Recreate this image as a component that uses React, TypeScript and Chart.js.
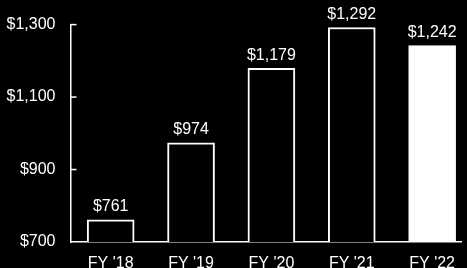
import React, { useEffect, useRef } from "react";
import { Chart, registerables } from "chart.js";

Chart.register(...registerables);

const categories = ["FY '18", "FY '19", "FY '20", "FY '21", "FY '22"];
const values = [761, 974, 1179, 1292, 1242];
const fills = ["#000000", "#000000", "#000000", "#000000", "#ffffff"];
const yTicks = [700, 900, 1100, 1300];

const FONT = "'Liberation Sans Narrow', 'Liberation Sans', sans-serif";
const fmt = (v: number) => "$" + v.toLocaleString("en-US");

const labelPlugin = {
  id: "barLabels",
  afterDatasetsDraw(chart: any) {
    const ctx = chart.ctx;
    const meta = chart.getDatasetMeta(0);
    ctx.save();
    ctx.fillStyle = "#ffffff";
    ctx.font = `16px ${FONT}`;
    ctx.textAlign = "center";
    ctx.textBaseline = "alphabetic";
    meta.data.forEach((el: any, i: number) => {
      ctx.fillText(fmt(values[i]), el.x, el.y - 8.5);
    });
    ctx.restore();
  },
};

const innerTicks = {
  id: "innerTicks",
  afterDraw(chart: any) {
    const ctx = chart.ctx;
    const y = chart.scales.y;
    const left = chart.chartArea.left;
    ctx.save();
    ctx.strokeStyle = "#ffffff";
    ctx.lineWidth = 1.5;
    yTicks.slice(1).forEach((v) => {
      const py = y.getPixelForValue(v);
      ctx.beginPath();
      ctx.moveTo(left, py);
      ctx.lineTo(left + 6, py);
      ctx.stroke();
    });
    ctx.restore();
  },
};

export default function App() {
  const ref = useRef<HTMLCanvasElement>(null);
  useEffect(() => {
    document.body.style.margin = "0";
    document.body.style.background = "#000";
    const chart = new Chart(ref.current!, {
      type: "bar",
      data: {
        datasets: [
          {
            data: values.map((v, i) => ({ x: i, y: v })),
            backgroundColor: fills,
            borderColor: "#ffffff",
            borderWidth: 2,
            barThickness: 47,
          },
        ],
      },
      options: {
        animation: false,
        responsive: true,
        maintainAspectRatio: false,
        layout: { padding: { top: 24, right: 0, left: 0, bottom: 0 } },
        plugins: { legend: { display: false }, tooltip: { enabled: false } },
        scales: {
          x: {
            type: "linear",
            offset: false,
            min: -0.5,
            max: 4.365,
            afterBuildTicks: (s: any) => {
              s.ticks = categories.map((_, i) => ({ value: i }));
            },
            afterFit: (s: any) => {
              s.height = 26;
            },
            grid: { display: false, drawTicks: false },
            border: { display: true, color: "#ffffff", width: 1.5 },
            ticks: {
              color: "#ffffff",
              font: { family: FONT, size: 16 },
              padding: 12,
              maxRotation: 0,
              autoSkip: false,
              callback: (v: any) => categories[v] ?? "",
            },
          },
          y: {
            min: 700,
            max: 1300,
            afterBuildTicks: (s: any) => {
              s.ticks = yTicks.map((v) => ({ value: v }));
            },
            afterFit: (s: any) => {
              s.width = 70.5;
            },
            grid: { display: false, drawTicks: false },
            border: { display: true, color: "#ffffff", width: 1.5 },
            ticks: {
              color: "#ffffff",
              font: { family: FONT, size: 16 },
              padding: 15,
              callback: (v: any) => fmt(v),
            },
          },
        },
      },
      plugins: [labelPlugin, innerTicks],
    } as any);
    return () => chart.destroy();
  }, []);
  return (
    <div style={{ position: "absolute", left: 0, top: 0, width: 467, height: 268, background: "#000" }}>
      <canvas ref={ref} />
    </div>
  );
}
